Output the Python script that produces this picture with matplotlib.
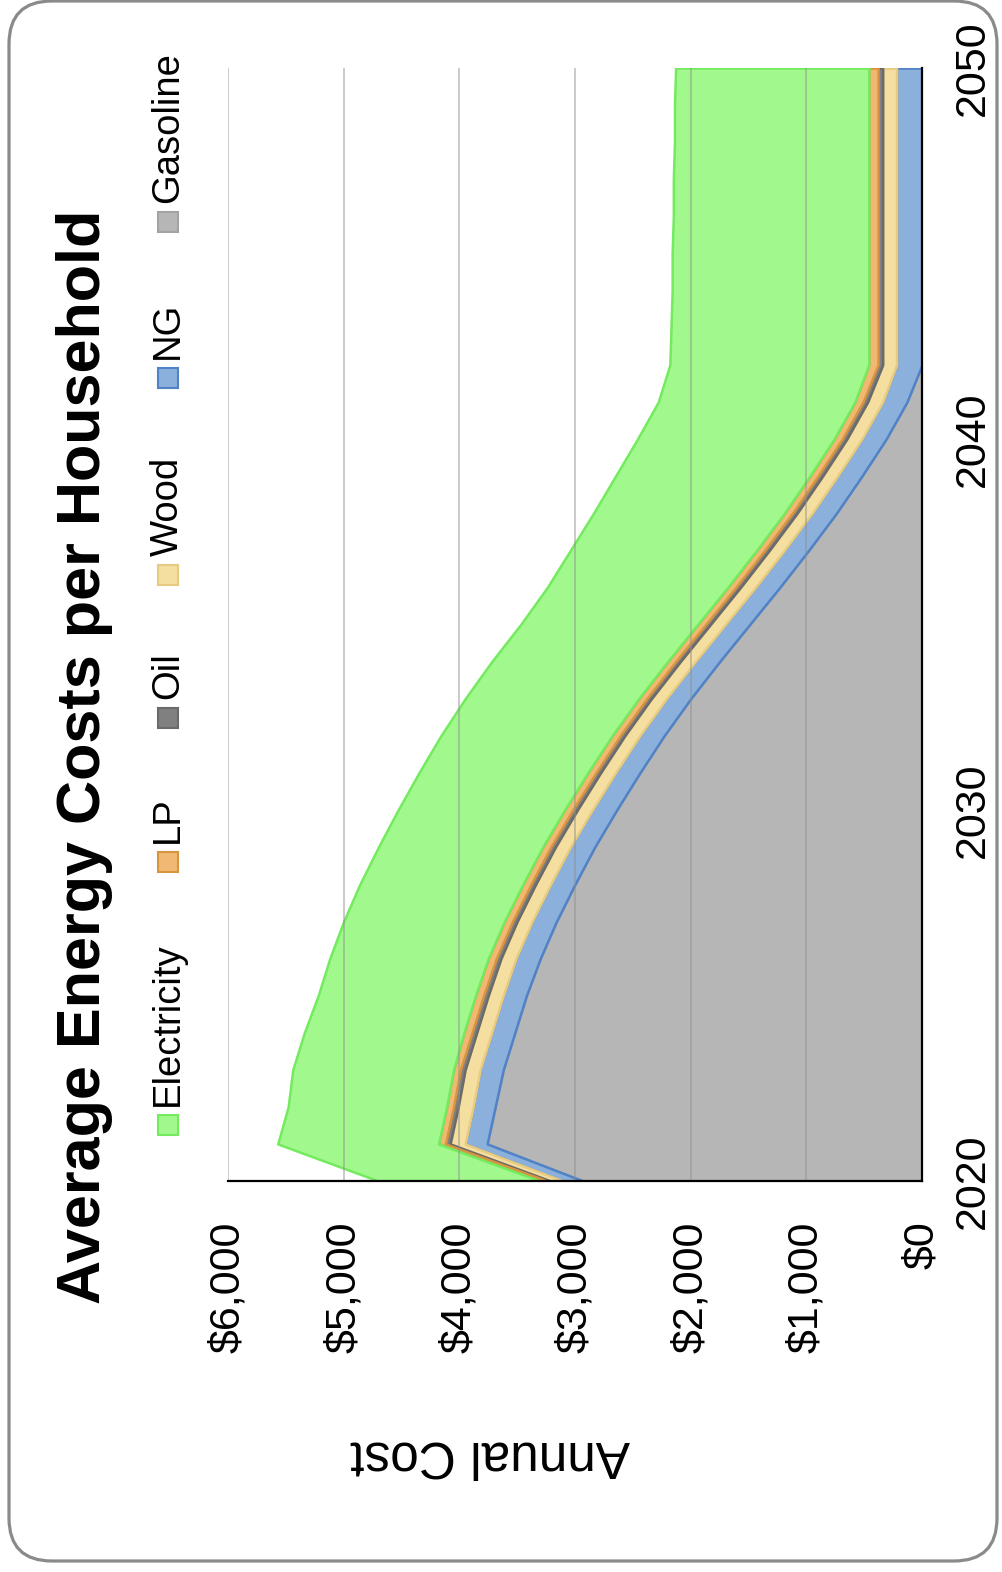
import matplotlib
matplotlib.use("Agg")
import matplotlib.pyplot as plt
import numpy as np
from matplotlib.patches import FancyBboxPatch, Rectangle
from matplotlib.transforms import IdentityTransform
from matplotlib.ticker import FuncFormatter, MultipleLocator

plt.rcParams["font.family"] = ["Liberation Sans", "DejaVu Sans"]

# Average annual household energy cost by source, $ per year
years = list(range(2020, 2051))
gasoline = [2930, 3760, 3690, 3620, 3520, 3420, 3300, 3160, 3000, 2830,
            2640, 2440, 2230, 2000, 1750, 1490, 1230, 980, 740, 520,
            310, 130, 0, 0, 0, 0, 0, 0, 0, 0, 0]
ng = [170, 190, 190, 200, 200, 200, 210, 210, 210, 210,
      210, 210, 210, 210, 210, 210, 210, 210, 210, 210,
      210, 210, 220, 220, 220, 220, 220, 220, 220, 220, 220]
wood = [110, 130, 130, 130, 130, 130, 130, 130, 130, 130,
        130, 130, 130, 130, 130, 130, 130, 130, 130, 130,
        130, 130, 120, 120, 120, 120, 120, 120, 120, 120, 120]
oil = [30, 40, 40, 40, 40, 40, 40, 40, 40, 40,
       40, 40, 40, 40, 40, 40, 40, 40, 40, 40,
       40, 40, 40, 40, 40, 40, 40, 40, 40, 40, 40]
lp = [60, 60, 60, 60, 70, 70, 70, 70, 70, 70,
      70, 70, 70, 70, 70, 70, 70, 70, 70, 70,
      70, 70, 80, 80, 80, 80, 80, 80, 80, 80, 80]
electricity = [1400, 1390, 1370, 1390, 1380, 1360, 1370, 1390, 1410, 1420,
               1440, 1460, 1480, 1500, 1520, 1530, 1560, 1610, 1650, 1680,
               1700, 1700, 1720, 1710, 1700, 1700, 1690, 1690, 1680, 1680, 1670]

# stacked from the bottom up
series = [
    ("Gasoline", gasoline, "#b6b6b6", "#a3a3a3"),
    ("NG", ng, "#8cb0dc", "#4f82c6"),
    ("Wood", wood, "#f4dfa0", "#e6cb80"),
    ("Oil", oil, "#808080", "#6a6a6a"),
    ("LP", lp, "#f0b872", "#d8953f"),
    ("Electricity", electricity, "#a1f98e", "#74ea5e"),
]
legend_order = ["Electricity", "LP", "Oil", "Wood", "NG", "Gasoline"]

W, H = 1003, 1572
fig = plt.figure(figsize=(W / 100, H / 100), dpi=100)


def fx(x):
    return x / W


def fy(y):
    return 1 - y / H


# chart is laid out turned a quarter turn: years run up, cost runs left
ax = fig.add_axes([fx(228), fy(1181), (922 - 228) / W, (1181 - 68) / H])

base = np.zeros(len(years))
for name, vals, fc, ec in series:
    top = base + np.array(vals, dtype=float)
    ax.fill_betweenx(years, base, top, facecolor=fc, edgecolor=ec,
                     linewidth=1.8, zorder=2)
    base = top

ax.set_xlim(6000, 0)
ax.set_ylim(2020, 2050)
ax.xaxis.set_major_locator(MultipleLocator(1000))
ax.yaxis.set_major_locator(MultipleLocator(10))
ax.xaxis.set_major_formatter(FuncFormatter(lambda v, p: f"${v:,.0f}"))
ax.grid(axis="x", color="#8f8f8f", alpha=0.55, linewidth=1.2, zorder=3)
ax.grid(axis="y", visible=False)
ax.set_axisbelow(False)

for side in ["top", "left"]:
    ax.spines[side].set_visible(False)
for side in ["right", "bottom"]:
    ax.spines[side].set_color("black")
    ax.spines[side].set_linewidth(1.6)
    ax.spines[side].set_zorder(4)

ax.tick_params(axis="x", length=0, pad=29, labelsize=31, labelrotation=90)
ax.tick_params(axis="y", length=0, pad=22, labelsize=31, labelrotation=90,
               left=False, labelleft=False, right=True, labelright=True)
for lbl in ax.get_yticklabels():
    lbl.set_va("center")

fig.text(fx(85), fy(757), "Average Energy Costs per Household",
         rotation=90, fontsize=44, fontweight="bold",
         ha="center", va="center")

fig.text(fx(490), fy(1455), "Annual Cost", rotation=180, fontsize=37,
         ha="center", va="center")

# legend entries, read bottom to top
legend_y = {"Electricity": 1125, "LP": 862, "Oil": 718, "Wood": 575,
            "NG": 378, "Gasoline": 222}
colors = {name: (fc, ec) for name, _, fc, ec in series}
sq = 20
for name in legend_order:
    fc, ec = colors[name]
    y0 = legend_y[name]
    fig.add_artist(Rectangle((fx(168 - sq / 2), fy(y0 + sq / 2)), sq / W, sq / H,
                             transform=fig.transFigure, facecolor=fc,
                             edgecolor=ec, linewidth=1.5))
    fig.text(fx(168), fy(y0 - sq / 2 - 9), name, rotation=90, fontsize=27.5,
             ha="left", va="center", rotation_mode="anchor")

# rounded chart frame
frame = FancyBboxPatch((9, 11), 988, 1560, boxstyle="round,pad=0,rounding_size=43",
                       transform=IdentityTransform(), facecolor="none",
                       edgecolor="#8a8a8a", linewidth=2.3)
fig.add_artist(frame)

fig.savefig("out.png", dpi=100, facecolor="white")
